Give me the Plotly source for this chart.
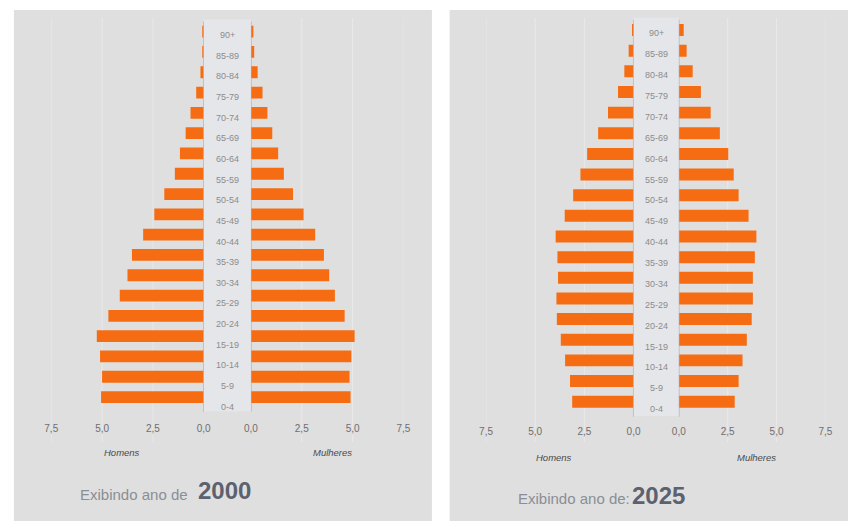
import plotly.graph_objects as go

# ---------------- data ----------------
age_groups = ["0-4", "5-9", "10-14", "15-19", "20-24", "25-29", "30-34", "35-39",
              "40-44", "45-49", "50-54", "55-59", "60-64", "65-69", "70-74",
              "75-79", "80-84", "85-89", "90+"]

men_2000 = [5.05, 5.0, 5.1, 5.26, 4.69, 4.13, 3.75, 3.53, 2.98, 2.43,
            1.94, 1.42, 1.17, 0.89, 0.65, 0.37, 0.16, 0.07, 0.03]
women_2000 = [4.9, 4.85, 4.94, 5.1, 4.61, 4.13, 3.85, 3.59, 3.16, 2.59,
              2.07, 1.62, 1.34, 1.05, 0.81, 0.57, 0.33, 0.16, 0.12]

men_2025 = [3.12, 3.23, 3.48, 3.7, 3.9, 3.92, 3.84, 3.87, 3.96, 3.5,
            3.07, 2.7, 2.36, 1.8, 1.3, 0.79, 0.47, 0.25, 0.08]
women_2025 = [2.86, 3.06, 3.26, 3.48, 3.73, 3.79, 3.79, 3.89, 3.97, 3.57,
              3.06, 2.81, 2.53, 2.1, 1.63, 1.13, 0.71, 0.4, 0.25]

tick_values = [0, 2.5, 5.0, 7.5]
men_label = "Homens"
women_label = "Mulheres"
caption_left = "Exibindo ano de"
caption_right = "Exibindo ano de:"
year_left = "2000"
year_right = "2025"

# ---------------- layout helpers ----------------
W, H = 855, 521


def fx(px):
    return px / W


def fy(py):
    return 1 - py / H


ORANGE = "#f56c12"
PANEL_BG = "#dfdfdf"
STRIP_BG = "#e5e6e9"
GRID = "#e9e9e9"
ZERO = "#9fb0cc"
FONT = "Liberation Sans Narrow, Liberation Sans, Arial, sans-serif"

fig = go.Figure()

fig.add_trace(go.Bar(y=age_groups, x=men_2000, orientation="h", xaxis="x", yaxis="y",
                     marker=dict(color=ORANGE, line=dict(width=0)), showlegend=False))
fig.add_trace(go.Bar(y=age_groups, x=women_2000, orientation="h", xaxis="x2", yaxis="y",
                     marker=dict(color=ORANGE, line=dict(width=0)), showlegend=False))
fig.add_trace(go.Bar(y=age_groups, x=men_2025, orientation="h", xaxis="x3", yaxis="y2",
                     marker=dict(color=ORANGE, line=dict(width=0)), showlegend=False))
fig.add_trace(go.Bar(y=age_groups, x=women_2025, orientation="h", xaxis="x4", yaxis="y2",
                     marker=dict(color=ORANGE, line=dict(width=0)), showlegend=False))

# panel geometry (pixels)
L_MEN = (45, 200)
L_WOM = (248, 403)
R_MEN = (487, 637)
R_WOM = (683, 832)
L_Y = (21.5, 407.2)
R_Y = (19.7, 412.0)


def xax(dom, rng, anchor, standoff):
    return dict(domain=[fx(dom[0]), fx(dom[1])], range=rng, anchor=anchor,
                tickvals=tick_values, tickformat=".1f", showgrid=False,
                zeroline=False, showline=False,
                ticks="", ticklabelstandoff=standoff,
                tickfont=dict(family=FONT, size=10, color="#6e6e6e"),
                fixedrange=True)


def yax(dom, anchor):
    return dict(domain=[fy(dom[1]), fy(dom[0])], type="category",
                categoryorder="array", categoryarray=age_groups,
                range=[-0.5, len(age_groups) - 0.5], anchor=anchor,
                showticklabels=False, showgrid=False, zeroline=False,
                showline=False, ticks="", fixedrange=True)


layout = dict(
    width=W, height=H,
    margin=dict(l=0, r=0, t=0, b=0),
    paper_bgcolor="white",
    plot_bgcolor="rgba(0,0,0,0)",
    separators=",.",
    barmode="overlay",
    bargap=0.42,
    showlegend=False,
    xaxis=xax(L_MEN, [7.5, 0], "y", 14),
    xaxis2=xax(L_WOM, [0, 7.5], "y", 14),
    xaxis3=xax(R_MEN, [7.5, 0], "y2", 12),
    xaxis4=xax(R_WOM, [0, 7.5], "y2", 12),
    yaxis=yax(L_Y, "x"),
    yaxis2=yax(R_Y, "x3"),
    # helper axes for the age labels in the centre strips (slightly different pitch)
    yaxis3=dict(domain=[fy(417.0), fy(24.7)], range=[-0.5, len(age_groups) - 0.5],
                visible=False, anchor="x", showgrid=False, zeroline=False, fixedrange=True),
    yaxis4=dict(domain=[fy(419.7), fy(22.9)], range=[-0.5, len(age_groups) - 0.5],
                visible=False, anchor="x3", showgrid=False, zeroline=False, fixedrange=True),
)
fig.update_layout(**layout)

shapes = []
# panel backgrounds
shapes.append(dict(type="rect", xref="paper", yref="paper", x0=fx(7), x1=fx(432),
                   y0=0, y1=fy(10), fillcolor=PANEL_BG, line=dict(width=0), layer="below"))
shapes.append(dict(type="rect", xref="paper", yref="paper", x0=fx(450), x1=1,
                   y0=0, y1=fy(10), fillcolor=PANEL_BG, line=dict(width=0), layer="below"))
# centre strips
for (m, w, ydom) in [(L_MEN, L_WOM, L_Y), (R_MEN, R_WOM, R_Y)]:
    shapes.append(dict(type="rect", xref="paper", yref="paper", x0=fx(m[1]), x1=fx(w[0]),
                       y0=fy(ydom[1] + 4), y1=fy(ydom[0] - 2), fillcolor=STRIP_BG,
                       line=dict(width=0), layer="below"))
# grid lines (full panel height, below bars)
for xr in ["x", "x2", "x3", "x4"]:
    for v in tick_values[1:]:
        shapes.append(dict(type="line", xref=xr, yref="paper", x0=v, x1=v,
                           y0=fy(442), y1=fy(18), line=dict(color=GRID, width=1),
                           layer="below"))
# zero lines
for xr, yr in [("x", "y"), ("x2", "y"), ("x3", "y2"), ("x4", "y2")]:
    shapes.append(dict(type="line", xref=xr, yref=yr + " domain", x0=0, x1=0,
                       y0=-0.012, y1=1.0, line=dict(color=ZERO, width=1.2), layer="above"))
fig.update_layout(shapes=shapes)

ann = []
# age labels in centre strips
for i, g in enumerate(age_groups):
    ann.append(dict(xref="paper", yref="y3", x=fx((L_MEN[1] + L_WOM[0]) / 2), y=i,
                    text=g, showarrow=False, xanchor="center", yanchor="middle",
                    font=dict(family=FONT, size=9, color="#8c8c8c")))
    ann.append(dict(xref="paper", yref="y4", x=fx((R_MEN[1] + R_WOM[0]) / 2), y=i,
                    text=g, showarrow=False, xanchor="center", yanchor="middle",
                    font=dict(family=FONT, size=9, color="#8c8c8c")))

# sex labels
for x, y, t in [(117, 452, men_label), (331, 452, women_label),
                (556, 457, men_label), (762, 457, women_label)]:
    ann.append(dict(xref="paper", yref="paper", x=fx(x), y=fy(y), text="<i>" + t + "</i>",
                    showarrow=False, xanchor="center", yanchor="middle",
                    font=dict(family=FONT, size=9.5, color="#4a4a4a")))

# captions
ann.append(dict(xref="paper", yref="paper", x=fx(72), y=fy(494), text=caption_left,
                showarrow=False, xanchor="left", yanchor="middle",
                font=dict(family=FONT, size=15, color="#8a8e96")))
ann.append(dict(xref="paper", yref="paper", x=fx(192), y=fy(490), text="<b>" + year_left + "</b>",
                showarrow=False, xanchor="left", yanchor="middle",
                font=dict(family=FONT, size=24, color="#5c6170")))
ann.append(dict(xref="paper", yref="paper", x=fx(517), y=fy(498), text=caption_right,
                showarrow=False, xanchor="left", yanchor="middle",
                font=dict(family=FONT, size=15, color="#8a8e96")))
ann.append(dict(xref="paper", yref="paper", x=fx(633), y=fy(495), text="<b>" + year_right + "</b>",
                showarrow=False, xanchor="left", yanchor="middle",
                font=dict(family=FONT, size=24, color="#5c6170")))
fig.update_layout(annotations=ann)

fig.write_html("out.html")
